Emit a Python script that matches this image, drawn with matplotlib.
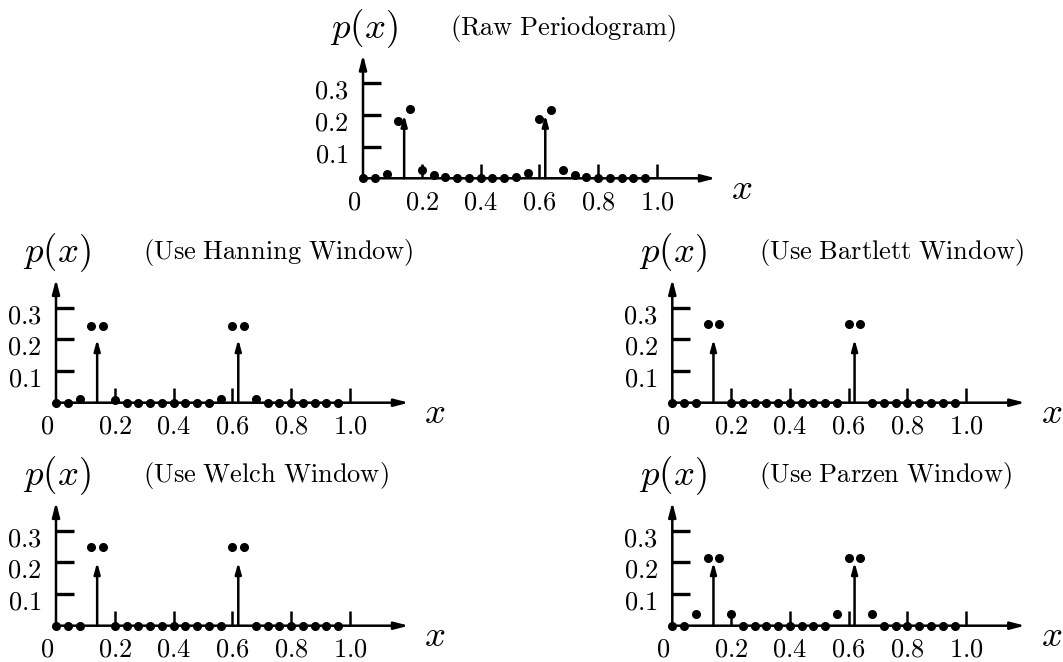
import numpy as np
import matplotlib
matplotlib.use('Agg')
import matplotlib.pyplot as plt

plt.rcParams['mathtext.fontset'] = 'cm'

# frequency grid of the estimates
FREQS = [0.00, 0.04, 0.08, 0.12, 0.16, 0.20, 0.24, 0.28, 0.32, 0.36,
         0.40, 0.44, 0.48, 0.52, 0.56, 0.60, 0.64, 0.68, 0.72, 0.76,
         0.80, 0.84, 0.88, 0.92, 0.96]
# true spectral lines (arrows)
LINE_FREQS = [0.14, 0.62]
LINE_HEIGHT = 0.2

RAW = [0.000, 0.002, 0.015, 0.181, 0.219, 0.027, 0.010, 0.005, 0.001, 0.001,
       0.000, 0.000, 0.002, 0.005, 0.018, 0.188, 0.217, 0.027, 0.010, 0.005,
       0.001, 0.001, 0.001, 0.001, 0.001]
HANNING = [0.0, 0.0, 0.013, 0.242, 0.242, 0.010, 0.0, 0.0, 0.0, 0.0,
           0.0, 0.0, 0.0, 0.0, 0.013, 0.242, 0.242, 0.013, 0.0, 0.0,
           0.0, 0.0, 0.0, 0.0, 0.0]
BARTLETT = [0.0, 0.0, 0.0, 0.247, 0.247, 0.0, 0.0, 0.0, 0.0, 0.0,
            0.0, 0.0, 0.0, 0.0, 0.0, 0.247, 0.247, 0.0, 0.0, 0.0,
            0.0, 0.0, 0.0, 0.0, 0.0]
WELCH = [0.0, 0.0, 0.0, 0.248, 0.248, 0.0, 0.0, 0.0, 0.0, 0.0,
         0.0, 0.0, 0.0, 0.0, 0.0, 0.248, 0.248, 0.0, 0.0, 0.0,
         0.0, 0.0, 0.0, 0.0, 0.0]
PARZEN = [0.0, 0.0, 0.036, 0.213, 0.213, 0.036, 0.0, 0.0, 0.0, 0.0,
          0.0, 0.0, 0.0, 0.0, 0.036, 0.213, 0.213, 0.036, 0.0, 0.0,
          0.0, 0.0, 0.0, 0.0, 0.0]

TITLES = ['Raw Periodogram', 'Use Hanning Window', 'Use Bartlett Window',
          'Use Welch Window', 'Use Parzen Window']
SERIES = [RAW, HANNING, BARTLETT, WELCH, PARZEN]

X_TICKS = [0.2, 0.4, 0.6, 0.8, 1.0]
X_TICK_LABELS = ['0.2', '0.4', '0.6', '0.8', '1.0']
Y_TICKS = [0.1, 0.2, 0.3]
Y_TICK_LABELS = ['0.1', '0.2', '0.3']

# panel origins in pixels (x from left, y from top)
ORIGINS = [(363, 178.3), (56, 402.7), (672.3, 402.7), (56, 625.7), (672.3, 625.7)]

W_PX, H_PX = 1063, 662
SX, SY = 294.0, 317.0        # pixels per data unit
XLIM = (-0.2, 1.4)
YLIM = (-0.1, 0.5)

fig = plt.figure(figsize=(W_PX / 100, H_PX / 100), dpi=100)

LW = 1.8
for (ox, oy), vals, title in zip(ORIGINS, SERIES, TITLES):
    left = ox + XLIM[0] * SX
    bottom = H_PX - (oy - YLIM[0] * SY)
    ax = fig.add_axes([left / W_PX, bottom / H_PX,
                       (XLIM[1] - XLIM[0]) * SX / W_PX,
                       (YLIM[1] - YLIM[0]) * SY / H_PX])
    ax.set_xlim(*XLIM)
    ax.set_ylim(*YLIM)
    ax.axis('off')

    # axes with arrows
    axis_arrow = dict(arrowstyle='-|>,head_length=0.85,head_width=0.22',
                      mutation_scale=10, lw=LW, color='k',
                      shrinkA=0, shrinkB=0)
    ax.annotate('', xy=(1.2, 0), xytext=(0, 0), arrowprops=axis_arrow)
    ax.annotate('', xy=(0, 0.39), xytext=(0, 0), arrowprops=axis_arrow)

    # ticks
    for t, lab in zip(X_TICKS, X_TICK_LABELS):
        ax.plot([t, t], [0, 0.045], color='k', lw=LW, solid_capstyle='butt')
        ax.text(t, -0.076, '$' + lab + '$', fontsize=19, ha='center', va='center')
    ax.text(-0.03, -0.076, '$0$', fontsize=19, ha='center', va='center')
    for t, lab in zip(Y_TICKS, Y_TICK_LABELS):
        ax.plot([0, 0.06], [t, t], color='k', lw=LW + 0.6, solid_capstyle='butt')
        ax.text(-0.049, t - 0.027, '$' + lab + '$', fontsize=19, ha='right', va='center')

    # spectral lines
    line_arrow = dict(arrowstyle='-|>,head_length=0.65,head_width=0.18',
                      mutation_scale=10, lw=LW, color='k',
                      shrinkA=0, shrinkB=0)
    for f in LINE_FREQS:
        ax.annotate('', xy=(f, LINE_HEIGHT), xytext=(f, 0), arrowprops=line_arrow)

    # estimates
    ax.plot(FREQS, vals, 'o', color='k', ms=5.5, clip_on=False, zorder=3)

    # labels
    ax.text(-0.113, 0.473, '$p(x)$', fontsize=26.5, ha='left', va='center')
    ax.text(0.295, 0.473, r'$\mathrm{(' + title.replace(' ', r'\ ') + r')}$',
            fontsize=19, ha='left', va='center')
    ax.text(1.289, -0.032, '$x$', fontsize=26.5, ha='center', va='center')

fig.savefig('out.png', dpi=100)
